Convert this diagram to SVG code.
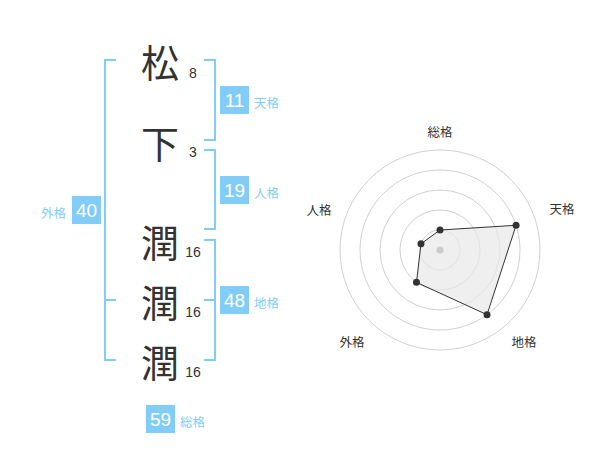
<svg xmlns="http://www.w3.org/2000/svg" width="600" height="470" viewBox="0 0 600 470">
<style>
.ch{font-family:"Noto Sans CJK JP","Noto Sans CJK SC",sans-serif;font-size:38px;fill:#333;text-anchor:middle;dominant-baseline:central}
.st{font-family:"Liberation Sans",Arial,sans-serif;font-size:14px;fill:#333;text-anchor:middle}
.br{fill:none;stroke:#82cdf8;stroke-width:2}
.bx{fill:#82cdf8}
.bn{font-family:"Liberation Sans",Arial,sans-serif;font-size:19px;fill:#fff;text-anchor:middle;dominant-baseline:central}
.lb{font-family:"Noto Sans CJK JP","Noto Sans CJK SC",sans-serif;font-size:12.5px;fill:#82cdf8}
.rg{fill:none;stroke:#d0d0d0;stroke-width:1}
.rl{font-family:"Noto Sans CJK JP","Noto Sans CJK SC",sans-serif;font-size:12.5px;fill:#333;text-anchor:middle;dominant-baseline:central}
.pt{fill:#333}
</style>
<g id="connectors">
<path class="br" d="M116,60H105V360H116M105,300H116"/>
<path class="br" d="M204,60H215V140H204"/>
<path class="br" d="M204,150H215V229H204"/>
<path class="br" d="M204,240H215V360H204M204,300H215"/>
</g>
<g id="char1"><text class="ch" x="160" y="60">松</text><text class="st" x="193" y="78">8</text></g>
<g id="char2"><text class="ch" x="160" y="141">下</text><text class="st" x="193" y="157">3</text></g>
<g id="char3"><text class="ch" x="160" y="240">潤</text><text class="st" x="193" y="257">16</text></g>
<g id="char4"><text class="ch" x="160" y="300">潤</text><text class="st" x="193" y="317">16</text></g>
<g id="char5"><text class="ch" x="160" y="360">潤</text><text class="st" x="193" y="377">16</text></g>
<g id="tenkaku"><rect class="bx" x="220" y="86" width="29" height="28"/><text class="bn" x="234.5" y="100">11</text><text class="lb" x="254" y="108">天格</text></g>
<g id="jinkaku"><rect class="bx" x="220" y="176" width="29" height="28"/><text class="bn" x="234.5" y="190">19</text><text class="lb" x="254" y="198">人格</text></g>
<g id="chikaku"><rect class="bx" x="220" y="286" width="29" height="28"/><text class="bn" x="234.5" y="300">48</text><text class="lb" x="254" y="308">地格</text></g>
<g id="gaikaku"><rect class="bx" x="72" y="196" width="29" height="28"/><text class="bn" x="86.5" y="210">40</text><text class="lb" x="41" y="218">外格</text></g>
<g id="soukaku"><rect class="bx" x="146" y="405" width="29" height="28"/><text class="bn" x="160.5" y="419">59</text><text class="lb" x="180" y="427">総格</text></g>
<g id="radar">
<circle class="rg" cx="440" cy="250" r="20"/>
<circle class="rg" cx="440" cy="250" r="40"/>
<circle class="rg" cx="440" cy="250" r="60"/>
<circle class="rg" cx="440" cy="250" r="80"/>
<circle class="rg" cx="440" cy="250" r="100"/>
<polygon points="440,230 516.08,225.28 487.02,314.72 416.49,282.36 420.98,243.82" fill="#e8e8e8" fill-opacity="0.7" stroke="#333" stroke-width="1"/>
<circle cx="440" cy="250" r="3.5" fill="#cccccc"/>
<circle class="pt" cx="440" cy="230" r="3.5"/>
<circle class="pt" cx="516.08" cy="225.28" r="3.5"/>
<circle class="pt" cx="487.02" cy="314.72" r="3.5"/>
<circle class="pt" cx="416.49" cy="282.36" r="3.5"/>
<circle class="pt" cx="420.98" cy="243.82" r="3.5"/>
<text class="rl" x="440" y="131">総格</text>
<text class="rl" x="562" y="208">天格</text>
<text class="rl" x="524" y="341">地格</text>
<text class="rl" x="352" y="341">外格</text>
<text class="rl" x="319" y="209">人格</text>
</g>
</svg>
